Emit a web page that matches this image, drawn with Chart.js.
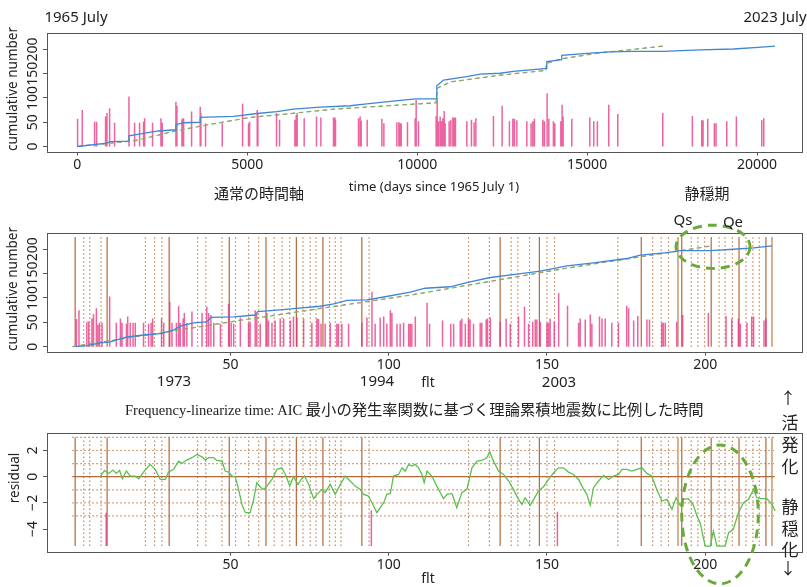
<!DOCTYPE html>
<html>
<head>
<meta charset="utf-8">
<script src="https://cdn.jsdelivr.net/npm/chart.js@4.4.0/dist/chart.umd.min.js"></script>
<style>
  body { margin: 0; background: #fff; width: 807px; height: 587px; position: relative; overflow: hidden;
         font-family: "Noto Sans", sans-serif; color: #222; }
  canvas { position: absolute; left: 0; }
  .t { position: absolute; white-space: nowrap; line-height: 1; transform: translate(-50%, -50%); }
  .rot { transform: translate(-50%, -50%) rotate(-90deg); }
  .jp { font-family: "Noto Sans CJK JP", sans-serif; }
</style>
</head>
<body>
<canvas id="top" width="807" height="200" style="top:0"></canvas>
<canvas id="mid" width="807" height="200" style="top:200px"></canvas>
<canvas id="bot" width="807" height="192" style="top:395px"></canvas>

<div class="t" style="left:76px;top:16px;font-size:15px">1965 July</div>
<div class="t" style="left:775px;top:16px;font-size:15px">2023 July</div>
<div class="t rot" style="left:13px;top:89px;font-size:13.5px">cumulative number</div>
<div class="t jp" style="left:259px;top:192px;font-size:15px">通常の時間軸</div>
<div class="t" style="left:434px;top:186px;font-size:13px">time (days since 1965 July 1)</div>
<div class="t jp" style="left:707px;top:192px;font-size:15px">静穏期</div>

<div class="t" style="left:683px;top:219px;font-size:15px">Qs</div>
<div class="t" style="left:733px;top:221px;font-size:15px">Qe</div>
<div class="t rot" style="left:13px;top:289px;font-size:13.5px">cumulative number</div>
<div class="t" style="left:174px;top:380px;font-size:15px">1973</div>
<div class="t" style="left:377px;top:380px;font-size:15px">1994</div>
<div class="t" style="left:428px;top:382px;font-size:14px">flt</div>
<div class="t" style="left:559px;top:381px;font-size:15px">2003</div>

<div class="t" style="left:125px;top:409px;transform:translateY(-50%)"><span style="font-family:'Liberation Serif',serif;font-size:14.5px">Frequency-linearize time: AIC </span><span class="jp" style="font-size:15.3px">最小の発生率関数に基づく理論累積地震数に比例した時間</span></div>
<div class="t rot" style="left:15px;top:478px;font-size:13.5px">residual</div>
<div class="t" style="left:428px;top:578px;font-size:14px">flt</div>

<div class="t jp" style="left:788px;top:397px;font-size:16px">↑</div>
<div class="t jp" style="left:790px;top:421px;font-size:17px">活</div>
<div class="t jp" style="left:790px;top:443px;font-size:17px">発</div>
<div class="t jp" style="left:790px;top:465px;font-size:17px">化</div>
<div class="t jp" style="left:790px;top:505px;font-size:17px">静</div>
<div class="t jp" style="left:790px;top:527px;font-size:17px">穏</div>
<div class="t jp" style="left:790px;top:548px;font-size:17px">化</div>
<div class="t jp" style="left:788px;top:567px;font-size:16px">↓</div>

<script>
// ---- top panel: ordinary time axis (days since 1965 July 1)
const topXTicks = [0, 5000, 10000, 15000, 20000];
const cumTicks = [0, 50, 100, 150, 200];

const topBarDays = [9, 147, 509, 568, 832, 873, 951, 1098, 1520, 1686,
  1833, 1950, 1980, 2215, 2461, 2500, 2902, 2932, 3079, 3108,
  3128, 3363, 3617, 3637, 3774, 4265, 4863, 5039, 5069, 5294,
  5314, 5862, 5951, 6402, 6441, 6470, 6676, 7038, 7167, 7538,
  7579, 7597, 8274, 8323, 8353, 8529, 8961, 9020, 9402, 9461,
  9499, 9529, 9714, 9941, 9970, 10038, 10558, 10588, 10626, 10676,
  10714, 10755, 10794, 10823, 10941, 10990, 11049, 11088, 11126, 11461,
  11597, 11676, 11726, 12244, 12499, 12714, 12814, 12861, 12932, 13226,
  13352, 13402, 13449, 13696, 13744, 13823, 13873, 14008, 14050, 14226,
  14264, 14294, 14549, 15079, 15196, 15302, 15637, 15902, 17225, 18096,
  18373, 18411, 18549, 18743, 18793, 19108, 19391, 20138, 20197];
const topBarHeights = [57, 75, 51, 51, 62, 69, 79, 49, 103, 49,
  49, 51, 58, 49, 58, 49, 92, 84, 56, 58,
  58, 72, 82, 69, 48, 48, 88, 48, 51, 75,
  69, 69, 55, 55, 65, 69, 58, 62, 60, 60,
  60, 55, 58, 62, 53, 55, 57, 48, 50, 50,
  48, 48, 50, 58, 96, 52, 63, 100, 52, 62,
  52, 58, 73, 48, 52, 55, 60, 60, 60, 52,
  55, 50, 58, 63, 84, 52, 57, 57, 54, 52,
  48, 52, 57, 55, 52, 110, 57, 52, 48, 52,
  86, 62, 57, 60, 52, 52, 86, 67, 69, 63,
  54, 54, 57, 48, 48, 52, 62, 54, 58];

const cumDays = [0, 873, 970, 1520, 1520, 1951, 2392, 2784, 2902, 2902,
  3128, 3617, 3617, 4598, 5284, 5872, 6363, 7147, 8029, 8519,
  9499, 9970, 10578, 10578, 10774, 11460, 11852, 12440, 12833, 13813,
  13813, 14254, 14254, 14989, 15675, 16362, 17244, 18323, 19303, 20137, 20528];
const cumCount = [0, 7, 10, 11, 22, 27, 32, 34, 34, 45,
  49, 50, 60, 62, 68, 72, 77, 81, 84, 88,
  95, 98, 98, 125, 137, 144, 149, 151, 155, 161,
  175, 179, 188, 192, 195, 196, 196, 199, 201, 205, 207];

const theoDays = [0, 1686, 2833, 3617, 5088, 5872, 7538, 9794, 10558, 10588,
  10970, 12440, 13794, 13794, 14254, 15381, 17244];
const theoCount = [0, 12, 31, 42, 60, 65, 77, 87, 90, 120,
  133, 147, 157, 171, 181, 193, 207];

// ---- middle panel: frequency-linearized time
const fltTicks = [50, 100, 150, 200];

const midBarFlt = [1.3, 2.1, 4.6, 5.2, 6.2, 6.7, 7.6, 8.1, 8.6, 9.4,
  11.8, 13.9, 15.2, 15.7, 17.1, 17.5, 18.3, 19.2, 19.9, 22.5,
  24.1, 24.9, 25.4, 28.2, 28.9, 30.8, 31.5, 32.9, 33.6, 34.1,
  35.0, 35.4, 36.2, 37.8, 41.0, 42.5, 43.1, 43.8, 44.7, 46.8,
  49.4, 50.2, 51.0, 53.1, 55.7, 56.2, 57.8, 58.3, 59.4, 61.5,
  62.0, 63.1, 64.1, 65.7, 66.8, 68.9, 69.9, 71.0, 73.1, 75.7,
  77.3, 77.8, 78.6, 79.9, 81.5, 83.6, 84.1, 85.2, 87.3, 91.5,
  93.1, 94.7, 95.7, 97.3, 98.4, 99.4, 100.5, 101.0, 102.6, 103.6,
  104.7, 106.3, 106.8, 107.3, 108.4, 112.1, 112.9, 117.0, 119.6, 120.5,
  122.6, 123.1, 124.2, 125.2, 125.7, 126.8, 128.9, 129.4, 130.8, 131.2,
  132.1, 135.2, 137.1, 138.4, 141.0, 142.9, 144.2, 145.5, 146.3, 146.8,
  147.9, 150.0, 150.5, 151.0, 152.3, 153.7, 156.5, 160.0, 160.5, 162.1,
  163.7, 164.2, 166.6, 167.4, 168.4, 170.5, 172.6, 175.2, 175.8, 177.4,
  178.7, 181.6, 182.4, 186.3, 186.8, 187.4, 191.0, 192.9, 201.0, 206.6,
  208.4, 210.5, 211.1, 213.2, 214.7, 215.3, 218.6, 219.2];
const midBarHeights = [57, 75, 51, 51, 58, 67, 79, 45, 49, 49,
  103, 49, 58, 49, 47, 62, 49, 49, 49, 49,
  47, 49, 58, 58, 49, 92, 49, 49, 84, 49,
  58, 69, 49, 72, 69, 82, 69, 65, 49, 47,
  88, 49, 47, 60, 49, 51, 75, 69, 47, 69,
  54, 49, 54, 58, 58, 54, 62, 60, 58, 49,
  58, 57, 47, 47, 49, 47, 47, 47, 47, 49,
  60, 113, 47, 60, 62, 47, 75, 69, 47, 47,
  49, 47, 47, 47, 62, 90, 47, 54, 47, 47,
  54, 58, 47, 58, 56, 47, 49, 49, 56, 58,
  60, 51, 58, 47, 62, 82, 47, 51, 56, 56,
  51, 49, 49, 58, 51, 110, 84, 49, 58, 56,
  66, 47, 62, 58, 58, 49, 49, 84, 79, 54,
  63, 56, 56, 49, 49, 49, 51, 65, 69, 63,
  58, 58, 47, 49, 62, 62, 54, 58];

const midCumFlt = [1, 4.6, 8.8, 12.0, 17.3, 22.5, 27.8, 32.0, 34.1, 38.3,
  42.5, 43.8, 51.0, 57.8, 58.6, 64.7, 69.9, 78.3, 82.6, 86.8,
  93.1, 98.4, 106.8, 111.5, 119.4, 125.7, 132.1, 140.5, 147.9, 156.3,
  164.7, 175.2, 179.5, 187.9, 192.1, 201.6, 208.9, 215.3, 221.1];
const midCumCount = [0, 2, 8, 10, 20, 24, 27, 34, 42, 49,
  51, 60, 61, 65, 72, 75, 78, 83, 88, 95,
  96, 102, 112, 120, 123, 133, 142, 149, 155, 166,
  172, 181, 188, 193, 197, 197, 200, 203, 207];

const midTheoFlt = [0, 51, 107, 156, 202];
const midTheoCount = [0, 52, 106, 161, 207];

// change points (dotted), major change points (solid), light solid
const dottedFlt = [3.6, 5.5, 9.1, 23.1, 26, 28.3, 39.6, 42.2, 47.3, 51.6,
  55.7, 58.9, 63.8, 66.3, 68.7, 72.9, 75.2, 77, 81.3, 83.1,
  84.9, 93.8, 125.2, 131.8, 138.7, 140.8, 144.5, 150, 152.4, 172.4,
  183.4, 186.1, 188.4, 195.6, 197.7, 199.8, 204.4, 206.3, 208.6, 212.9,
  215.1, 217.1];
const solidFlt = [0.9, 11, 30.6, 49.6, 61.2, 70.8, 79.2, 91.5, 135.2, 147.6,
  179.8, 192.6, 201.9, 210.7, 219.2];
const lightFlt = [191.4, 221.1];

// ---- bottom panel: residual
const resTicks = [-4, -2, 0, 2];
const resGridLevels = [3, 2, 1, -1, -2, -3];
const bigQuakeFlt = [10.7, 94.5, 153.3];
const bigQuakeTop = [-2.75, -2.57, -2.68];

const resFlt = [8.8, 10.2, 11.5, 12.85, 13.9, 14.95, 15.8, 17.1, 18.3, 19.9,
  21.0, 22.5, 24.6, 26.2, 27.8, 29.4, 30.4, 32.0, 33.6, 34.65,
  36.2, 37.8, 39.4, 41.0, 42.0, 43.1, 44.65, 45.7, 47.3, 48.3,
  49.4, 50.45, 51.5, 52.55, 53.6, 54.7, 56.2, 57.3, 58.3, 59.6,
  60.45, 61.5, 63.1, 64.7, 66.2, 67.6, 68.7, 69.9, 71.3, 72.35,
  73.4, 74.7, 76.25, 77.3, 78.9, 79.9, 81.5, 83.1, 84.7, 86.25,
  87.8, 89.4, 91.0, 92.05, 93.6, 94.7, 96.25, 97.3, 98.4, 99.4,
  100.5, 101.5, 103.1, 104.2, 105.2, 106.3, 107.3, 108.4, 109.4, 110.5,
  111.2, 112.1, 113.6, 115.2, 117.3, 118.4, 120.0, 121.5, 123.1, 124.7,
  126.3, 127.9, 129.4, 131.0, 131.9, 133.1, 134.7, 136.3, 137.9, 139.4,
  141.0, 142.1, 143.1, 144.7, 145.8, 147.3, 148.9, 150.5, 152.1, 153.7,
  155.2, 156.8, 158.4, 160.0, 161.6, 162.6, 163.7, 164.7, 166.3, 167.9,
  169.5, 171.0, 172.6, 173.7, 175.3, 176.8, 178.4, 180.0, 181.6, 183.1,
  184.7, 186.3, 187.9, 189.5, 190.8, 192.1, 193.2, 194.7, 196.3, 197.4,
  198.4, 200.0, 201.6, 202.6, 203.7, 206.3, 207.4, 208.9, 210.5, 212.1,
  213.7, 215.3, 216.3, 217.9, 219.5, 221.1, 222.1];
const resVal = [0.0, 0.48, 0.25, 0.51, 0.25, 0.48, -0.16, 0.43, 0.05, 0.05,
  -0.16, 0.35, 0.94, 0.56, -0.21, -0.21, 0.35, 0.56, 1.19, 1.01,
  1.27, 1.45, 1.7, 1.52, 1.27, 1.45, 1.45, 1.24, 1.19, 0.43,
  0.35, 0.05, 0.0, -0.97, -2.12, -2.75, -2.75, -1.73, -0.46, -0.84,
  -0.97, -0.72, -0.21, 0.56, 0.68, 0.05, -0.72, 0.0, -0.59, -0.21,
  0.05, -0.59, -1.68, -1.35, -0.97, -1.22, -0.59, -1.35, -0.59, 0.05,
  -0.33, -0.72, -0.97, -1.35, -1.48, -1.99, -2.75, -2.37, -1.99, -1.35,
  -1.28, 0.05, 0.17, 0.68, 0.43, 0.94, 0.81, 0.94, 0.68, 0.17,
  -0.46, 0.43, 0.05, -0.72, -1.68, -1.35, -1.28, -2.37, -1.22, -0.97,
  0.68, 1.19, 1.24, 1.45, 1.91, 1.19, 0.43, 0.17, -0.33, -0.97,
  -1.73, -2.12, -1.61, -2.19, -1.73, -1.1, -0.77, -0.21, 0.3, 0.68,
  0.68, 0.35, 0.17, -0.21, -0.97, -1.35, -2.17, -0.84, -0.33, 0.1,
  -0.21, 0.05, 0.17, 0.56, 0.56, 0.43, 0.56, 0.68, 0.25, 0.05,
  -0.97, -1.86, -1.73, -2.5, -1.61, -2.19, -1.73, -1.68, -2.19, -3.0,
  -3.51, -5.3, -5.3, -4.15, -5.3, -5.3, -4.28, -4.02, -2.75, -1.99,
  -1.73, -0.97, -1.61, -1.68, -1.68, -2.12, -2.62];

// ---------------------------------------------------------------
const BLUE = '#3f86d6', GREEN = '#5cc25a', RED = '#ee6f95', PINK = 'rgba(228,40,122,0.72)';
const BROWN = '#b3693a', LIGHTBROWN = '#d5b08e', DOT = '#c9854f', RESID = '#5cc04e', ELLIPSE = '#6aaa3c';

const pts = (xs, ys) => xs.map((x, i) => ({ x: x, y: ys[i] }));
function bars(xs, tops, base) {
  const d = [];
  xs.forEach((x, i) => { d.push({ x: x, y: base }, { x: x, y: tops[i] }, { x: x, y: null }); });
  return d;
}
function vlines(xs, lo, hi) {
  const d = [];
  xs.forEach(x => { d.push({ x: x, y: lo }, { x: x, y: hi }, { x: x, y: null }); });
  return d;
}
function hlines(ys, x0, x1) {
  const d = [];
  ys.forEach(y => { d.push({ x: x0, y: y }, { x: x1, y: y }, { x: x1, y: null }); });
  return d;
}
function line(data, color, width, dash, offset) {
  return { data: data, borderColor: color, borderWidth: width, borderDash: dash || [],
           borderDashOffset: offset || 0, pointRadius: 0, spanGaps: false, fill: false, tension: 0 };
}

const boxPlugin = {
  id: 'box',
  afterDatasetsDraw(chart) {
    const a = chart.chartArea, ctx = chart.ctx;
    ctx.save();
    ctx.strokeStyle = '#555';
    ctx.lineWidth = 1;
    ctx.strokeRect(Math.round(a.left) + 0.5, Math.round(a.top) + 0.5, Math.round(a.right - a.left), Math.round(a.bottom - a.top));
    ctx.restore();
  }
};

function yLabels(values) {
  return {
    id: 'ylab',
    afterDraw(chart) {
      const ctx = chart.ctx, s = chart.scales.y;
      ctx.save();
      ctx.fillStyle = '#222';
      ctx.font = '14px "Noto Sans"';
      ctx.textAlign = 'center';
      ctx.textBaseline = 'middle';
      values.forEach(v => {
        ctx.save();
        ctx.translate(33, s.getPixelForValue(v));
        ctx.rotate(-Math.PI / 2);
        ctx.fillText(v < 0 ? '\u2212' + Math.abs(v) : String(v), 0, 0);
        ctx.restore();
      });
      ctx.restore();
    }
  };
}

function ellipse(cx, cy, rx, ry) {
  return {
    id: 'ell',
    afterDraw(chart) {
      const ctx = chart.ctx, sx = chart.scales.x, sy = chart.scales.y;
      const px = sx.getPixelForValue(cx), py = sy.getPixelForValue(cy);
      const prx = Math.abs(sx.getPixelForValue(cx + rx) - px);
      const pry = Math.abs(sy.getPixelForValue(cy + ry) - py);
      ctx.save();
      ctx.strokeStyle = ELLIPSE;
      ctx.lineWidth = 3;
      ctx.setLineDash([9, 6]);
      ctx.beginPath();
      ctx.ellipse(px, py, prx, pry, 0, 0, Math.PI * 2);
      ctx.stroke();
      ctx.restore();
    }
  };
}

function panel(id, cfg) {
  const canvas = document.getElementById(id);
  const H = canvas.height;
  return new Chart(canvas, {
    type: 'line',
    data: { datasets: cfg.datasets },
    options: {
      responsive: false,
      animation: false,
      events: [],
      layout: { padding: { top: cfg.areaTop, right: 5, left: 0, bottom: 0 } },
      plugins: { legend: { display: false }, tooltip: { enabled: false } },
      scales: {
        x: {
          type: 'linear', min: cfg.xMin, max: cfg.xMax,
          afterFit: s => { s.height = H - cfg.areaBottom; },
          afterBuildTicks: s => { s.ticks = cfg.xTicks.map(v => ({ value: v })); },
          grid: { drawOnChartArea: false, drawTicks: true, tickLength: 4, color: '#555' },
          border: { display: false },
          ticks: { color: '#222', padding: 1, maxRotation: 0, autoSkip: false,
                   font: { size: 14, family: 'Noto Sans' }, callback: v => String(v) }
        },
        y: {
          type: 'linear', min: cfg.yMin, max: cfg.yMax,
          afterFit: s => { s.width = 47; },
          afterBuildTicks: s => { s.ticks = cfg.yTicks.map(v => ({ value: v })); },
          grid: { drawOnChartArea: false, drawTicks: true, tickLength: 4, color: '#555' },
          border: { display: false },
          ticks: { display: false }
        }
      }
    },
    plugins: [boxPlugin, yLabels(cfg.yTicks)].concat(cfg.extra || [])
  });
}

// top
panel('top', {
  areaTop: 32.5, areaBottom: 151.5,
  xMin: -891, xMax: 21322, yMin: -10.3, yMax: 235,
  xTicks: topXTicks, yTicks: cumTicks,
  datasets: [
    line(pts(cumDays, cumCount), BLUE, 1.3),
    line(pts(theoDays, theoCount), RED, 1.2, [2, 6], 6),
    line(pts(theoDays, theoCount), GREEN, 1.2, [5, 3]),
    line(bars(topBarDays, topBarHeights, 0), PINK, 1.5)
  ]
});

// middle
panel('mid', {
  areaTop: 32.7, areaBottom: 151.7,
  xMin: -8, xMax: 230.6, yMin: -10.3, yMax: 234,
  xTicks: fltTicks, yTicks: cumTicks,
  datasets: [
    line(pts(midCumFlt, midCumCount), BLUE, 1.3),
    line(pts(midTheoFlt, midTheoCount), RED, 1.2, [2, 6], 6),
    line(pts(midTheoFlt, midTheoCount), GREEN, 1.2, [5, 3]),
    line(bars(midBarFlt, midBarHeights, 0), PINK, 1.5),
    line(vlines(solidFlt, 0, 225), BROWN, 1.2),
    line(vlines(lightFlt, 0, 225), LIGHTBROWN, 2),
    line(vlines(dottedFlt, 0, 225), DOT, 1.2, [1.5, 2.5])
  ],
  extra: [ellipse(202.5, 205, 11.7, 44.5)]
});

// bottom
panel('bot', {
  areaTop: 37.7, areaBottom: 156.7,
  xMin: -8, xMax: 230.6, yMin: -5.73, yMax: 3.36,
  xTicks: fltTicks, yTicks: resTicks,
  datasets: [
    line(pts(resFlt, resVal), RESID, 1.3),
    line(bars(bigQuakeFlt, bigQuakeTop, -5.3), PINK, 1.5),
    line(hlines([0], 0, 222), BROWN, 1.2),
    line(vlines(solidFlt, -5.3, 3), BROWN, 1.2),
    line(vlines(lightFlt, -5.3, 3), LIGHTBROWN, 2),
    line(hlines(resGridLevels, 0, 222), DOT, 1.2, [1.5, 2.5]),
    line(vlines(dottedFlt, -5.3, 3), DOT, 1.2, [1.5, 2.5])
  ],
  extra: [ellipse(204.7, -2.88, 12.1, 5.3)]
});
</script>
</body>
</html>
